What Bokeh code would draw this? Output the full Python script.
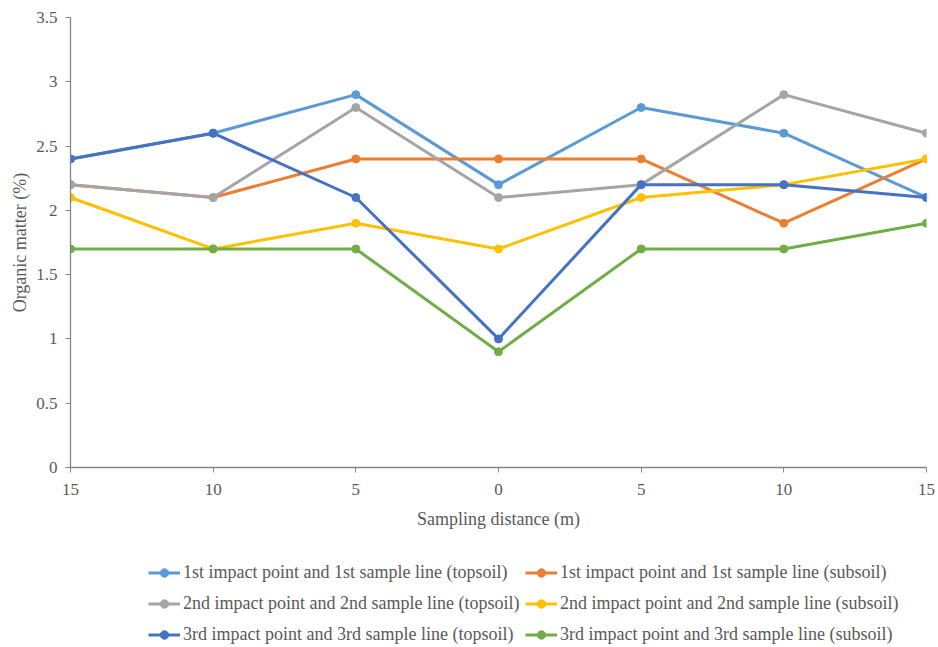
from bokeh.plotting import figure
from bokeh.models import Legend, LegendItem, FixedTicker, Range1d
from bokeh.layouts import column
from bokeh.embed import file_html
from bokeh.resources import INLINE

x_labels = ["15", "10", "5", "0", "5", "10", "15"]
y_ticks = [0, 0.5, 1, 1.5, 2, 2.5, 3, 3.5]

s1_top = [2.4, 2.6, 2.9, 2.2, 2.8, 2.6, 2.1]
s1_sub = [2.2, 2.1, 2.4, 2.4, 2.4, 1.9, 2.4]
s2_top = [2.2, 2.1, 2.8, 2.1, 2.2, 2.9, 2.6]
s2_sub = [2.1, 1.7, 1.9, 1.7, 2.1, 2.2, 2.4]
s3_top = [2.4, 2.6, 2.1, 1.0, 2.2, 2.2, 2.1]
s3_sub = [1.7, 1.7, 1.7, 0.9, 1.7, 1.7, 1.9]

names = [
    "1st impact point and 1st sample line (topsoil)",
    "1st impact point and 1st sample line (subsoil)",
    "2nd impact point and 2nd sample line (topsoil)",
    "2nd impact point and 2nd sample line (subsoil)",
    "3rd impact point and 3rd sample line (topsoil)",
    "3rd impact point and 3rd sample line (subsoil)",
]
series = [s1_top, s1_sub, s2_top, s2_sub, s3_top, s3_sub]
colors = ["#5B9BD5", "#ED7D31", "#A5A5A5", "#FFC000", "#4472C4", "#70AD47"]

FONT = "Liberation Serif"
TXT = "#595959"
AX = "#868686"

xs = list(range(len(x_labels)))

W = 938
p = figure(width=W, height=545, output_backend="svg", toolbar_location=None,
           x_range=Range1d(0, 6), y_range=Range1d(0, 3.5),
           min_border_left=70, min_border_right=12, min_border_top=17, min_border_bottom=78)
p.outline_line_color = None
p.xgrid.visible = False
p.ygrid.visible = False

p.xaxis.ticker = FixedTicker(ticks=xs)
p.xaxis.major_label_overrides = {i: l for i, l in enumerate(x_labels)}
p.yaxis.ticker = FixedTicker(ticks=y_ticks)
p.yaxis.major_label_overrides = {0: "0", 1: "1", 2: "2", 3: "3"}

for ax in (p.xaxis, p.yaxis):
    ax.axis_line_color = AX
    ax.axis_line_width = 1.3
    ax.major_tick_line_color = AX
    ax.major_tick_in = 0
    ax.major_tick_out = 5
    ax.minor_tick_line_color = None
    ax.major_label_text_font = FONT
    ax.major_label_text_font_size = "17px"
    ax.major_label_text_color = TXT
    ax.major_label_standoff = 8
    ax.axis_label_text_font = FONT
    ax.axis_label_text_font_size = "18px"
    ax.axis_label_text_font_style = "normal"
    ax.axis_label_text_color = TXT

p.xaxis.axis_label = "Sampling distance (m)"
p.xaxis.major_label_standoff = 11
p.xaxis.axis_label_standoff = 11
p.yaxis.axis_label = "Organic matter (%)"
p.yaxis.axis_label_standoff = 3

for name, vals, c in zip(names, series, colors):
    p.line(xs, vals, line_color=c, line_width=3)
    p.scatter(xs, vals, size=8, fill_color=c, line_color=c)

# legend panel: same series, drawn out of view so only the legend glyphs show
lf = figure(width=W, height=100, output_backend="svg", toolbar_location=None,
            x_range=Range1d(0, 6), y_range=Range1d(100, 101),
            x_axis_type=None, y_axis_type=None,
            min_border_left=70, min_border_right=12, min_border_top=0, min_border_bottom=0)
lf.outline_line_color = None
lf.xgrid.visible = False
lf.ygrid.visible = False

items = []
for name, vals, c in zip(names, series, colors):
    l = lf.line(xs, vals, line_color=c, line_width=3)
    s = lf.scatter(xs, vals, size=8, fill_color=c, line_color=c)
    items.append(LegendItem(label=name, renderers=[l, s]))

def make_legend(its, x):
    return Legend(items=its, location=(x, 0), orientation="vertical",
                  label_text_font=FONT, label_text_font_size="18px", label_text_color=TXT,
                  glyph_width=32, glyph_height=21, label_height=21, spacing=10,
                  label_standoff=3, padding=0, margin=0,
                  border_line_color=None, background_fill_alpha=0)

lf.add_layout(make_legend([items[0], items[2], items[4]], 78), "center")
lf.add_layout(make_legend([items[1], items[3], items[5]], 455), "center")

open("out.html", "w").write(file_html(column(p, lf, spacing=0), INLINE))
